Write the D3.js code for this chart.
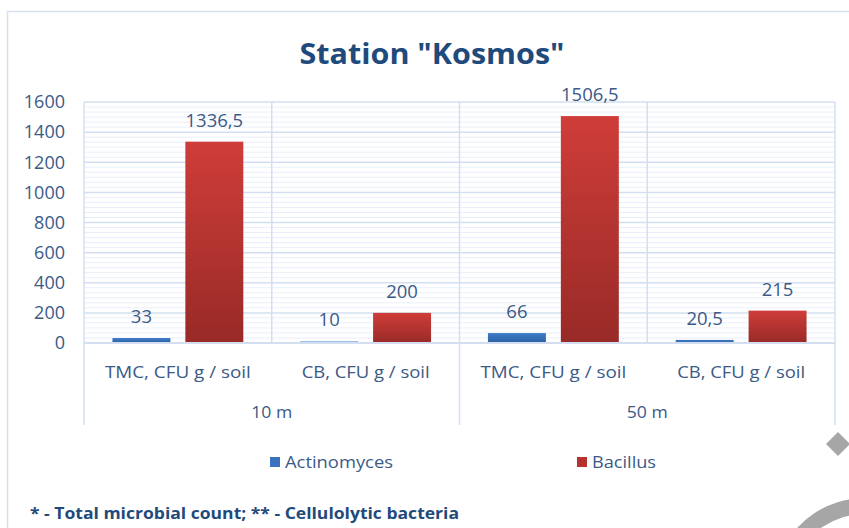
<!DOCTYPE html>
<html>
<head>
<meta charset="utf-8">
<script src="https://cdn.jsdelivr.net/npm/d3@7"></script>
<style>
  body { margin: 0; background: #fff; }
  svg { display: block; font-family: "Open Sans", "Noto Sans", sans-serif; }
</style>
</head>
<body>
<div id="chart"></div>
<script>
// chart data
var groups     = ["10 m", "50 m"];
var categories = ["TMC, CFU g / soil", "CB, CFU g / soil", "TMC, CFU g / soil", "CB, CFU g / soil"];
var catGroup   = ["10 m", "10 m", "50 m", "50 m"];
var series     = ["Actinomyces", "Bacillus"];
var actinomyces = [33, 10, 66, 20.5];
var bacillus    = [1336.5, 200, 1506.5, 215];
var yTicks      = [0, 200, 400, 600, 800, 1000, 1200, 1400, 1600];

var W = 849, H = 528;
var margin = {top: 102, right: 14, bottom: 185, left: 84};
var width  = W - margin.left - margin.right,
    height = H - margin.top - margin.bottom;

var textBlue = "#3b5a86";
var gridMajor = "#d3dff1", gridMinor = "#e9eff9";

var svg = d3.select("#chart").append("svg")
            .attr("width", W)
            .attr("height", H);

// gradients for the bars
var defs = svg.append("defs");
function grad(id, top, bottom) {
  var g = defs.append("linearGradient").attr("id", id)
              .attr("x1", 0).attr("y1", 0).attr("x2", 0).attr("y2", 1);
  g.append("stop").attr("offset", "0%").attr("stop-color", top);
  g.append("stop").attr("offset", "100%").attr("stop-color", bottom);
}
grad("gBlue", "#3e7dca", "#2c5f9f");
grad("gRed", "#cf3d39", "#982a27");
var fills = {Actinomyces: "url(#gBlue)", Bacillus: "url(#gRed)"};
var legendFill = {Actinomyces: "#3a73bd", Bacillus: "#b7312e"};

// outer chart border
svg.append("rect")
   .attr("x", 7.5).attr("y", 11.5)
   .attr("width", W).attr("height", H)
   .attr("fill", "none")
   .attr("stroke", "#d6e1f0")
   .attr("stroke-width", 1.5);

// title
svg.append("text")
   .attr("x", 432).attr("y", 64)
   .attr("text-anchor", "middle")
   .attr("font-size", 29).attr("font-weight", "bold")
   .attr("fill", "#1f4a7c")
   .attr("textLength", 265).attr("lengthAdjust", "spacingAndGlyphs")
   .text('Station "Kosmos"');

var g = svg.append("g")
           .attr("transform", "translate(" + margin.left + "," + margin.top + ")");

var y = d3.scaleLinear().domain([0, 1600]).range([height, 0]);

var x0 = d3.scaleBand().domain(d3.range(categories.length))
           .range([0, width]).padding(0);
var x1 = d3.scaleBand().domain(series)
           .range([0, x0.bandwidth()])
           .paddingInner(0.205).paddingOuter(0.39);

// minor gridlines
var minor = d3.range(0, 1600, 200 / 6).filter(function(v) { return Math.round(v) % 200 != 0; });
g.selectAll(".minor").data(minor).enter().append("line")
 .attr("x1", 0).attr("x2", width)
 .attr("y1", function(d) { return y(d); })
 .attr("y2", function(d) { return y(d); })
 .attr("stroke", gridMinor).attr("stroke-width", 1);

// major gridlines
g.selectAll(".major").data(yTicks).enter().append("line")
 .attr("x1", 0).attr("x2", width)
 .attr("y1", function(d) { return y(d); })
 .attr("y2", function(d) { return y(d); })
 .attr("stroke", gridMajor).attr("stroke-width", 1.5);

// vertical category lines
var catEdges = d3.range(categories.length + 1);
g.selectAll(".vline").data(catEdges).enter().append("line")
 .attr("x1", function(i) { return i * x0.step(); })
 .attr("x2", function(i) { return i * x0.step(); })
 .attr("y1", 0)
 .attr("y2", function(i) { return i % 2 == 0 ? height + 82 : height; })
 .attr("stroke", gridMajor).attr("stroke-width", 1.5);

// y axis labels
var yAxis = g.append("g")
             .call(d3.axisLeft(y).tickValues(yTicks).tickFormat(d3.format("d"))
                     .tickSize(0).tickPadding(19));
yAxis.select(".domain").remove();
yAxis.selectAll("text")
     .attr("font-size", 18)
     .attr("font-family", "'Open Sans', sans-serif")
     .attr("fill", textBlue);

// bars
var rows = categories.map(function(c, i) {
  return {i: i, vals: [{k: "Actinomyces", v: actinomyces[i]}, {k: "Bacillus", v: bacillus[i]}]};
});

var cat = g.selectAll(".cat").data(rows).enter().append("g")
           .attr("transform", function(d) { return "translate(" + x0(d.i) + ",0)"; });

cat.selectAll("rect").data(function(d) { return d.vals; }).enter().append("rect")
   .attr("x", function(d) { return x1(d.k); })
   .attr("y", function(d) { return y(d.v); })
   .attr("width", x1.bandwidth())
   .attr("height", function(d) { return height - y(d.v); })
   .attr("fill", function(d) { return fills[d.k]; });

// data labels
cat.selectAll(".lbl").data(function(d) { return d.vals; }).enter().append("text")
   .attr("x", function(d) { return x1(d.k) + x1.bandwidth() / 2; })
   .attr("y", function(d) { return y(d.v) - 15; })
   .attr("text-anchor", "middle")
   .attr("font-size", 18.5)
   .attr("fill", textBlue)
   .text(function(d) { return String(d.v).replace(".", ","); });

// x axis line
g.append("line")
 .attr("x1", 0).attr("x2", width)
 .attr("y1", height).attr("y2", height)
 .attr("stroke", gridMajor).attr("stroke-width", 2);

// category labels
g.selectAll(".catlbl").data(categories).enter().append("text")
 .attr("x", function(d, i) { return x0(i) + x0.bandwidth() / 2; })
 .attr("y", height + 35)
 .attr("text-anchor", "middle")
 .attr("font-size", 17)
 .attr("fill", textBlue)
 .attr("textLength", function(d) { return d.indexOf("TMC") == 0 ? 146 : 128; })
 .attr("lengthAdjust", "spacingAndGlyphs")
 .text(function(d) { return d; });

// group labels
g.selectAll(".grplbl").data(groups).enter().append("text")
 .attr("x", function(d) {
   var idx = catGroup.map(function(c, i) { return c == d ? i : -1; }).filter(function(i) { return i >= 0; });
   return (x0(idx[0]) + x0(idx[idx.length - 1]) + x0.bandwidth()) / 2;
 })
 .attr("y", height + 75)
 .attr("text-anchor", "middle")
 .attr("font-size", 17)
 .attr("fill", textBlue)
 .attr("textLength", 41)
 .attr("lengthAdjust", "spacingAndGlyphs")
 .text(function(d) { return d; });

// legend
var legendX = [270, 577];
var leg = svg.selectAll(".leg").data(series).enter().append("g")
             .attr("transform", function(d, i) { return "translate(" + legendX[i] + ",457)"; });
leg.append("rect")
   .attr("width", 10).attr("height", 10)
   .attr("fill", function(d) { return legendFill[d]; });
leg.append("text")
   .attr("x", 15).attr("y", 11)
   .attr("font-size", 17)
   .attr("fill", textBlue)
   .attr("textLength", function(d) { return d == "Actinomyces" ? 108 : 64; })
   .attr("lengthAdjust", "spacingAndGlyphs")
   .text(function(d) { return d; });

// footnote
svg.append("text")
   .attr("x", 30).attr("y", 519)
   .attr("font-size", 15.5).attr("font-weight", "bold")
   .attr("fill", "#1f4a7c")
   .attr("textLength", 429).attr("lengthAdjust", "spacingAndGlyphs")
   .text("* - Total microbial count; ** - Cellulolytic bacteria");

// grey page decoration at the lower right corner
svg.append("rect")
   .attr("x", 838 - 8.5).attr("y", 444 - 8.5)
   .attr("width", 17).attr("height", 17)
   .attr("transform", "rotate(45,838,444)")
   .attr("fill", "#a6a6a6");
svg.append("path")
   .attr("transform", "translate(865,590)")
   .attr("d", d3.arc().innerRadius(76).outerRadius(92)
                .startAngle(-Math.PI * 0.75).endAngle(0)())
   .attr("fill", "#a6a6a6");
</script>
</body>
</html>
